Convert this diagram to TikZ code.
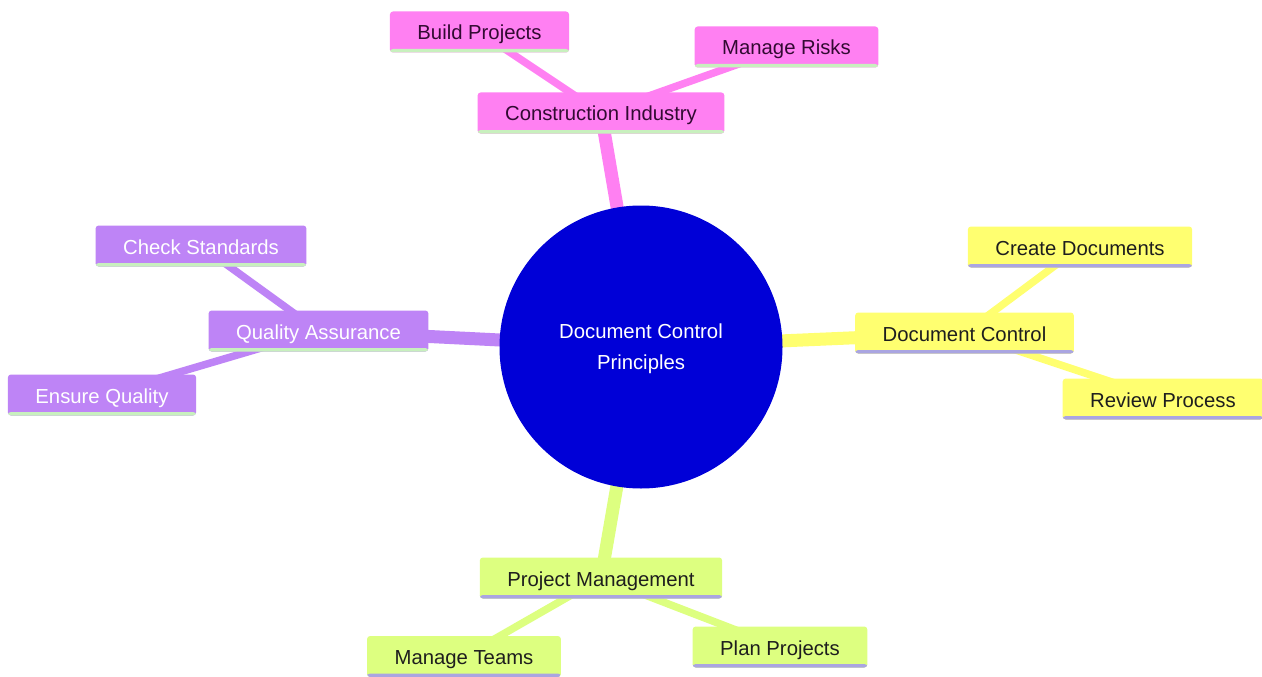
\documentclass[tikz,border=0pt]{standalone}
\usepackage{fontspec}
\setmainfont{Liberation Sans}
\usetikzlibrary{backgrounds}
\definecolor{pinkF}{RGB}{255,128,242}
\definecolor{purpleF}{RGB}{190,132,246}
\definecolor{yellowF}{RGB}{255,255,112}
\definecolor{greenF}{RGB}{221,255,128}
\definecolor{ulgreen}{RGB}{200,240,190}
\definecolor{ullav}{RGB}{170,165,225}
\definecolor{centerblue}{RGB}{0,0,215}
\definecolor{pinkT}{RGB}{50,10,50}
\definecolor{darkT}{RGB}{30,30,30}
\tikzset{
  box/.style 2 args={rectangle, rounded corners=3pt, fill=#1, minimum height=41pt,
    inner xsep=27.5pt, inner ysep=0pt, text height=17pt, text depth=1pt,
    font=\fontsize{20.3}{24}\selectfont,
    path picture={\fill[#2] ([yshift=3.5pt]path picture bounding box.south west) rectangle (path picture bounding box.south east);}},
  pinkbox/.style={box={pinkF}{ulgreen}, text=pinkT},
  purplebox/.style={box={purpleF}{ulgreen}, text=white},
  yellowbox/.style={box={yellowF}{ullav}, text=darkT},
  greenbox/.style={box={greenF}{ullav}, text=darkT},
  mainedge/.style={line width=13pt, draw=#1},
  subedge/.style={line width=7.5pt, draw=#1},
}
\begin{document}
\begin{tikzpicture}[x=1pt,y=-1pt]
\useasboundingbox (0,0) rectangle (1262,677);

\node[circle, fill=centerblue, minimum size=283pt, inner sep=0pt, text=white,
  align=center, font=\fontsize{20.3}{31}\selectfont] (root) at (641,347)
  {\\[-13pt]Document Control\\Principles};

\node[pinkbox] (ci) at (601,113) {Construction Industry};
\node[pinkbox] (bp) at (479.5,32) {Build Projects};
\node[pinkbox] (mr) at (786.5,47) {Manage Risks};

\node[purplebox] (qa) at (318.5,331) {Quality Assurance};
\node[purplebox] (cs) at (201,246) {Check Standards};
\node[purplebox] (eq) at (102,395) {Ensure Quality};

\node[yellowbox] (dc) at (964.5,333) {Document Control};
\node[yellowbox] (cd) at (1080,247) {Create Documents};
\node[yellowbox] (rp) at (1163,399) {Review Process};

\node[greenbox] (pm) at (601,578) {Project Management};
\node[greenbox] (mt) at (464,656.5) {Manage Teams};
\node[greenbox] (pp) at (780,647) {Plan Projects};

\begin{pgfonlayer}{background}
\fill[white] (0,0) rectangle (1262,677);
\draw[mainedge=pinkF] (root.center) -- (ci.center);
\draw[subedge=pinkF] (ci.center) -- (bp.center);
\draw[subedge=pinkF] (ci.center) -- (mr.center);
\draw[mainedge=purpleF] (root.center) -- (qa.center);
\draw[subedge=purpleF] (qa.center) -- (cs.center);
\draw[subedge=purpleF] (qa.center) -- (eq.center);
\draw[mainedge=yellowF] (root.center) -- (dc.center);
\draw[subedge=yellowF] (dc.center) -- (cd.center);
\draw[subedge=yellowF] (dc.center) -- (rp.center);
\draw[mainedge=greenF] (root.center) -- (pm.center);
\draw[subedge=greenF] (pm.center) -- (mt.center);
\draw[subedge=greenF] (pm.center) -- (pp.center);
\end{pgfonlayer}
\end{tikzpicture}
\end{document}
